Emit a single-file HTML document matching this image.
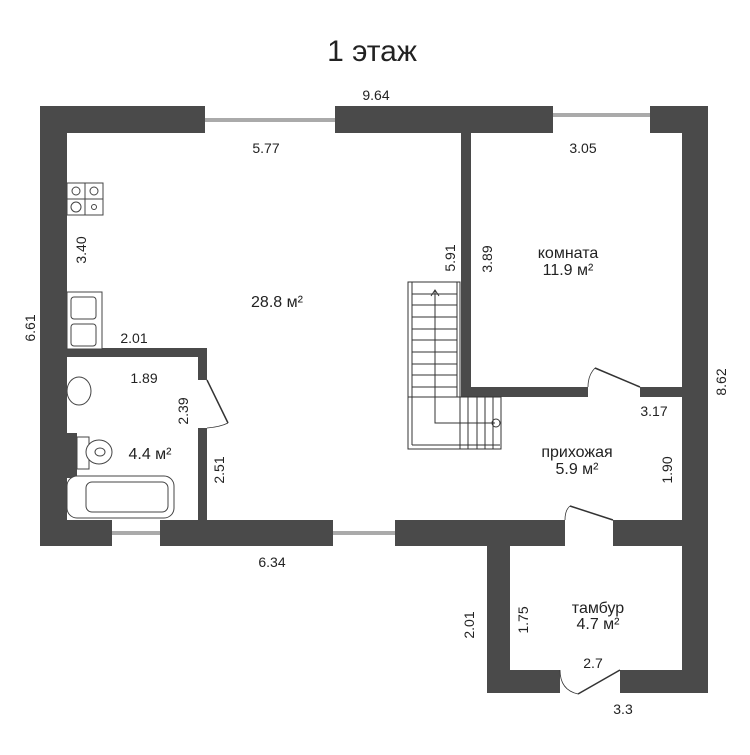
<!DOCTYPE html>
<html><head><meta charset="utf-8"><style>
body{margin:0;background:#fff}
svg text{font-family:"Liberation Sans","DejaVu Sans",sans-serif;fill:#222}
</style></head><body>
<svg width="750" height="750" viewBox="0 0 750 750" xmlns="http://www.w3.org/2000/svg">
<rect width="750" height="750" fill="#fff"/>
<text x="372" y="61" font-size="30" text-anchor="middle">1 этаж</text>
<g fill="#4a4a4a">
<rect x="40" y="106" width="668" height="27"/>
<rect x="40" y="106" width="27" height="440"/>
<rect x="682" y="106" width="26" height="587"/>
<rect x="40" y="520" width="447" height="26"/>
<rect x="613" y="520" width="95" height="26"/>
<rect x="487" y="520" width="78" height="26"/>
<rect x="487" y="520" width="23" height="173"/>
<rect x="487" y="670" width="73" height="23"/>
<rect x="620" y="670" width="88" height="23"/>
<rect x="461" y="133" width="10" height="264"/>
<rect x="461" y="387" width="127" height="10"/>
<rect x="640" y="387" width="42" height="10"/>
<rect x="67" y="348" width="140" height="9"/>
<rect x="198" y="348" width="9" height="32"/>
<rect x="198" y="428" width="9" height="92"/>
<rect x="67" y="433" width="10" height="45"/>
</g>
<g fill="#fff" stroke="#555" stroke-width="1">
<rect x="205" y="106" width="130" height="27" stroke="none"/>
<line x1="205" y1="119" x2="335" y2="119"/><line x1="205" y1="121" x2="335" y2="121"/>
<rect x="553" y="106" width="97" height="27" stroke="none"/>
<line x1="553" y1="114" x2="650" y2="114"/><line x1="553" y1="116" x2="650" y2="116"/>
<rect x="112" y="520" width="48" height="26" stroke="none"/>
<line x1="112" y1="532" x2="160" y2="532"/><line x1="112" y1="534" x2="160" y2="534"/>
<rect x="333" y="520" width="62" height="26" stroke="none"/>
<line x1="333" y1="532" x2="395" y2="532"/><line x1="333" y1="534" x2="395" y2="534"/>
</g>
<g fill="none" stroke="#333" stroke-width="1.5">
<line x1="207" y1="380" x2="228" y2="423"/><path d="M207 428 Q220 427 228 423" stroke-width="0.8"/>
<line x1="640" y1="387" x2="595" y2="368"/><path d="M588 387 Q588 375 595 368" stroke-width="0.8"/>
<line x1="613" y1="520" x2="570" y2="506"/><path d="M565 520 Q565 510 570 506" stroke-width="0.8"/>
<line x1="620" y1="670" x2="578" y2="694"/><path d="M560 670 Q560 690 578 694" stroke-width="0.8"/>
</g>
<g fill="none" stroke="#333" stroke-width="1">
<rect x="408" y="282" width="52" height="167"/>
<line x1="412" y1="282" x2="412" y2="445"/><line x1="412" y1="445" x2="500" y2="445"/>
<line x1="457" y1="282" x2="457" y2="397"/>
<rect x="460" y="397" width="41" height="52"/>
<line x1="408" y1="397" x2="460" y2="397"/>
<line x1="412" y1="294" x2="457" y2="294"/><line x1="412" y1="305" x2="457" y2="305"/>
<line x1="412" y1="317" x2="457" y2="317"/><line x1="412" y1="329" x2="457" y2="329"/>
<line x1="412" y1="340" x2="457" y2="340"/><line x1="412" y1="352" x2="457" y2="352"/>
<line x1="412" y1="364" x2="457" y2="364"/><line x1="412" y1="375" x2="457" y2="375"/>
<line x1="412" y1="387" x2="457" y2="387"/>
<line x1="468" y1="397" x2="468" y2="449"/><line x1="477" y1="397" x2="477" y2="449"/>
<line x1="485" y1="397" x2="485" y2="449"/><line x1="493" y1="397" x2="493" y2="449"/>
<polyline points="435,290 435,423 495,423"/>
<polyline points="431,296 435,290 439,296"/>
<circle cx="496" cy="423" r="4"/>
</g>
<g fill="#fff" stroke="#444" stroke-width="1">
<rect x="67" y="183" width="36" height="32"/><line x1="85" y1="183" x2="85" y2="215"/><line x1="67" y1="199" x2="103" y2="199"/>
<circle cx="76" cy="191" r="4"/><circle cx="94" cy="191" r="4"/><circle cx="76" cy="207" r="5"/><circle cx="94" cy="207" r="2.5"/>
<rect x="67" y="292" width="35" height="57"/><rect x="71" y="297" width="25" height="22" rx="3"/><rect x="71" y="324" width="25" height="22" rx="3"/>
<ellipse cx="79" cy="391" rx="12" ry="14"/>
<rect x="77" y="437" width="12" height="32"/><ellipse cx="99" cy="452" rx="13" ry="12"/><ellipse cx="100" cy="452" rx="5" ry="4"/>
<rect x="67" y="476" width="107" height="42" rx="10"/><rect x="86" y="482" width="82" height="30" rx="6"/>
</g>
<g font-size="14">
<text x="376" y="100" text-anchor="middle">9.64</text>
<text x="266" y="153" text-anchor="middle">5.77</text>
<text x="583" y="153" text-anchor="middle">3.05</text>
<text x="134" y="343" text-anchor="middle">2.01</text>
<text x="144" y="383" text-anchor="middle">1.89</text>
<text x="654" y="416" text-anchor="middle">3.17</text>
<text x="272" y="567" text-anchor="middle">6.34</text>
<text x="593" y="668" text-anchor="middle">2.7</text>
<text x="623" y="714" text-anchor="middle">3.3</text>
<text transform="translate(35,328) rotate(-90)" text-anchor="middle">6.61</text>
<text transform="translate(86,250) rotate(-90)" text-anchor="middle">3.40</text>
<text transform="translate(188,411) rotate(-90)" text-anchor="middle">2.39</text>
<text transform="translate(224,470) rotate(-90)" text-anchor="middle">2.51</text>
<text transform="translate(455,258) rotate(-90)" text-anchor="middle">5.91</text>
<text transform="translate(492,259) rotate(-90)" text-anchor="middle">3.89</text>
<text transform="translate(726,382) rotate(-90)" text-anchor="middle">8.62</text>
<text transform="translate(672,470) rotate(-90)" text-anchor="middle">1.90</text>
<text transform="translate(474,625) rotate(-90)" text-anchor="middle">2.01</text>
<text transform="translate(528,620) rotate(-90)" text-anchor="middle">1.75</text>
</g>
<g font-size="16" text-anchor="middle">
<text x="277" y="307">28.8 м²</text>
<text x="568" y="258">комната</text><text x="568" y="275">11.9 м²</text>
<text x="577" y="457">прихожая</text><text x="577" y="474">5.9 м²</text>
<text x="598" y="613">тамбур</text><text x="598" y="629">4.7 м²</text>
<text x="150" y="459">4.4 м²</text>
</g>
</svg>
</body></html>
